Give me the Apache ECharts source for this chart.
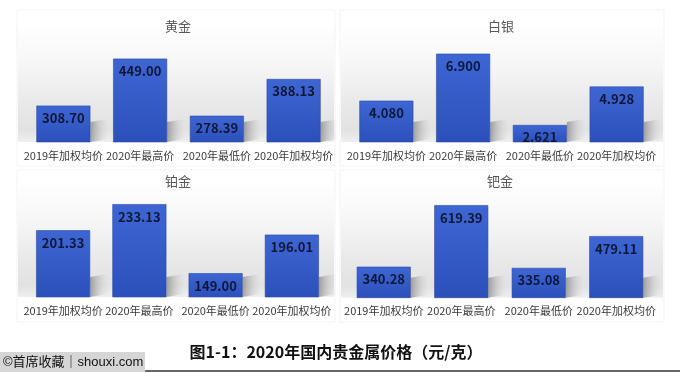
<!DOCTYPE html>
<html><head><meta charset="utf-8">
<script src="https://cdn.jsdelivr.net/npm/echarts@6/dist/echarts.min.js"></script>
<style>html,body{margin:0;padding:0;background:#fff}#c{width:680px;height:372px}</style>
</head><body><div id="c"></div>
<script>
const categories = ['2019年加权均价', '2020年最高价', '2020年最低价', '2020年加权均价'];
const goldValues = [308.70, 449.00, 278.39, 388.13];
const silverValues = [4.080, 6.900, 2.621, 4.928];
const platinumValues = [201.33, 233.13, 149.00, 196.01];
const palladiumValues = [340.28, 619.39, 335.08, 479.11];
const panelTitles = ['黄金', '白银', '铂金', '钯金'];
const valueDecimals = [2, 3, 2, 2];
const captionText = '图1-1：2020年国内贵金属价格（元/克）';
const watermarkText = '©首席收藏｜shouxi.com';

const seriesValues = [goldValues, silverValues, platinumValues, palladiumValues];
const layout = [
  {left: 25, top: 41.5, width: 307, height: 100.5, min: 200, max: 500, tx: 178, ty: 26, frame: [17, 10, 318, 156]},
  {left: 348, top: 42, width: 307, height: 100, min: 1.6, max: 7.6, tx: 501, ty: 26, frame: [340, 10, 324, 156]},
  {left: 25, top: 198.5, width: 305, height: 98.5, min: 120, max: 240, tx: 178, ty: 181, frame: [17, 170, 318, 152]},
  {left: 345, top: 198.4, width: 310, height: 99.3, min: 200, max: 650, tx: 500, ty: 181, frame: [340, 170, 324, 152]}
];
const FONT = '"Noto Sans CJK SC", "Noto Sans", sans-serif';
const chart = echarts.init(document.getElementById('c'), null, {renderer: 'canvas'});

const grids = [], xAxes = [], yAxes = [], series = [], graphics = [];
layout.forEach((L, i) => {
  grids.push({left: L.left, top: L.top, width: L.width, height: L.height, containLabel: false});
  xAxes.push({type: 'category', gridIndex: i, data: categories,
    axisLine: {show: false}, axisTick: {show: false}, splitLine: {show: false},
    axisLabel: {interval: 0, margin: 8, fontSize: 11, color: '#3a3a3a', fontFamily: FONT}});
  yAxes.push({type: 'value', gridIndex: i, min: L.min, max: L.max, show: false, splitLine: {show: false}});
  const f = L.frame;
  graphics.push({type: 'rect', z: 0, shape: {x: f[0], y: f[1], width: f[2], height: f[3]},
    style: {fill: '#ffffff', stroke: '#f3f3f3', lineWidth: 1}});
  const base = L.top + L.height;
  graphics.push({type: 'rect', z: 1, shape: {x: f[0] + 1, y: L.top - 18, width: f[2] - 2, height: base - (L.top - 18)},
    style: {fill: new echarts.graphic.LinearGradient(0, 0, 0, 1, [
      {offset: 0, color: '#ffffff'}, {offset: 0.35, color: '#f6f6f6'},
      {offset: 0.7, color: '#e8e8e8'}, {offset: 0.9, color: '#e2e2e2'}, {offset: 1, color: '#efefef'}])}});
  graphics.push({type: 'text', z: 10, x: L.tx, y: L.ty,
    style: {text: panelTitles[i], fontSize: 13, fill: '#595959', fontFamily: FONT, align: 'center', verticalAlign: 'middle'}});
  const dec = valueDecimals[i];
  series.push({type: 'custom', xAxisIndex: i, yAxisIndex: i, z: 1, silent: true,
    data: seriesValues[i].map((v, k) => [k, v]),
    renderItem: function (params, api) {
      const top = api.coord([api.value(0), api.value(1)]);
      const bottom = api.coord([api.value(0), L.min]);
      const right = top[0] + 27;
      const by = bottom[1];
      return {type: 'polygon', shape: {points: [[right, by - 20], [right + 18, by - 23], [right + 18, by - 3], [right, by]]},
        style: {fill: new echarts.graphic.LinearGradient(0, 0, 1, 0, [
          {offset: 0, color: 'rgba(110,110,110,0.6)'}, {offset: 1, color: 'rgba(200,200,200,0)'}])}};
    }});
  series.push({type: 'bar', xAxisIndex: i, yAxisIndex: i, z: 3, data: seriesValues[i], barWidth: 54,
    itemStyle: {color: new echarts.graphic.LinearGradient(0, 0, 0, 1, [
      {offset: 0, color: '#3e66d3'}, {offset: 1, color: '#2c50ba'}]), borderColor: '#2a4aa6', borderWidth: 0.6},
    label: {show: true, position: 'insideTop', distance: 6, fontSize: 13, fontWeight: 'bold', color: '#0f1838',
      fontFamily: FONT, formatter: p => p.value.toFixed(dec)}});
});

graphics.push({type: 'text', z: 10, x: 336, y: 352,
  style: {text: captionText, fontSize: 16, fontWeight: 'bold', fill: '#111111', fontFamily: FONT, align: 'center', verticalAlign: 'middle'}});
graphics.push({type: 'line', z: 10, shape: {x1: 145, y1: 371, x2: 680, y2: 371}, style: {stroke: '#333333', lineWidth: 1.5}});
graphics.push({type: 'rect', z: 10, shape: {x: 0, y: 352, width: 145, height: 20}, style: {fill: '#d6d6d6'}});
graphics.push({type: 'text', z: 11, x: 3, y: 362,
  style: {text: watermarkText, fontSize: 13, fill: '#111111', fontFamily: '"Liberation Sans", "Noto Sans CJK SC", sans-serif', align: 'left', verticalAlign: 'middle'}});

chart.setOption({
  animation: false,
  backgroundColor: '#ffffff',
  grid: grids, xAxis: xAxes, yAxis: yAxes, series: series,
  graphic: {elements: graphics}
});
</script></body></html>
